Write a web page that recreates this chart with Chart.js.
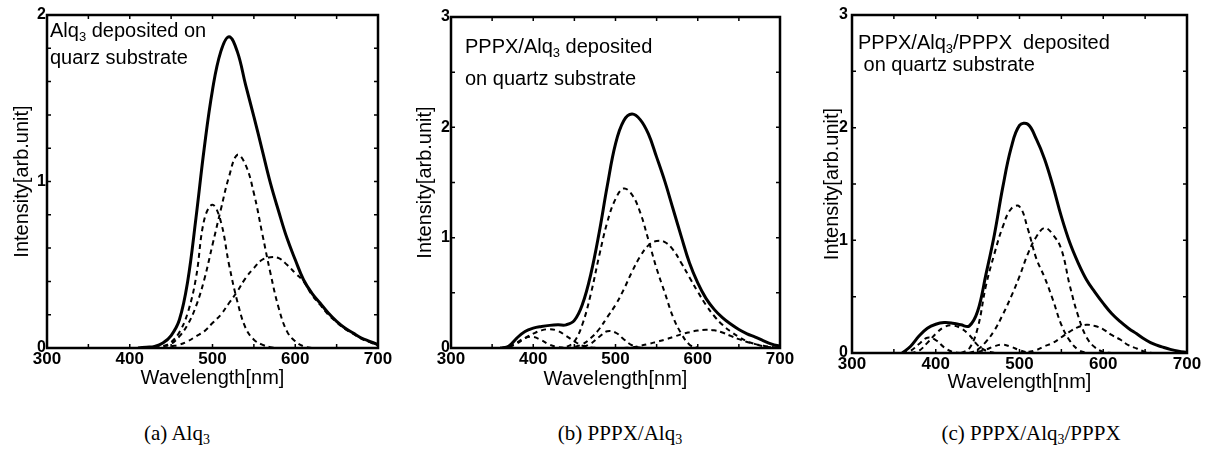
<!DOCTYPE html>
<html>
<head>
<meta charset="utf-8">
<script src="https://cdn.jsdelivr.net/npm/chart.js@4.4.1/dist/chart.umd.min.js"></script>
<style>
  html, body { margin: 0; padding: 0; background: #fff; }
  #page { position: relative; width: 1206px; height: 465px; overflow: hidden; background: #fff; }
  #page canvas { position: absolute; top: 0; }
  .note { position: absolute; font-family: "Liberation Sans", Arial, sans-serif; font-size: 20px; line-height: 20px; color: #000; white-space: pre; }
  .sub { position: relative; top: 4px; font-size: 13px; }
  .cap { position: absolute; font-family: "Liberation Serif", serif; font-size: 21px; line-height: 21px; color: #000; white-space: pre; transform: translateX(-50%); }
  .cap .sub { font-size: 14px; top: 4px; }
</style>
</head>
<body>
<div id="page">
  <canvas id="chartA" width="400" height="400" style="left:0px"></canvas>
  <canvas id="chartB" width="400" height="400" style="left:400px"></canvas>
  <canvas id="chartC" width="406" height="400" style="left:800px"></canvas>

  <div class="note" style="left:50px; top:20px">Alq<span class="sub">3</span> deposited on</div>
  <div class="note" style="left:50px; top:47px">quarz substrate</div>

  <div class="note" style="left:465px; top:36px">PPPX/Alq<span class="sub">3</span> deposited</div>
  <div class="note" style="left:465px; top:68px">on quartz substrate</div>

  <div class="note" style="left:858px; top:32px">PPPX/Alq<span class="sub">3</span>/PPPX  deposited</div>
  <div class="note" style="left:858px; top:54px"> on quartz substrate</div>

  <div class="cap" style="left:177px; top:423px">(a) Alq<span class="sub">3</span></div>
  <div class="cap" style="left:620px; top:423px">(b) PPPX/Alq<span class="sub">3</span></div>
  <div class="cap" style="left:1031px; top:423px">(c) PPPX/Alq<span class="sub">3</span>/PPPX</div>
</div>

<script>
const _ = null;

// wavelength grid shared by all panels (nm)
const wavelength = [
  300, 310, 320, 330, 340, 350, 360, 370, 380, 390,
  400, 410, 420, 430, 440, 450, 460, 470, 480, 490,
  500, 510, 520, 530, 540, 550, 560, 570, 580, 590,
  600, 610, 620, 630, 640, 650, 660, 670, 680, 690,
  700
];

// (a) Alq3
const aTotal = [
  _, _, _, _, _, _, _, _, _, _,
  _, 0, 0.005, 0.01, 0.03, 0.075, 0.17, 0.4, 0.78, 1.2,
  1.55, 1.78, 1.87, 1.78, 1.58, 1.39, 1.19, 0.99, 0.82, 0.66,
  0.53, 0.41, 0.33, 0.27, 0.21, 0.16, 0.12, 0.09, 0.06, 0.04,
  0.02
];
const aPeak1 = [
  _, _, _, _, _, _, _, _, _, _,
  _, _, _, 0, 0.01, 0.035, 0.095, 0.21, 0.42, 0.77,
  0.86, 0.76, 0.5, 0.28, 0.12, 0.05, 0.02, 0.005, 0, _,
  _, _, _, _, _, _, _, _, _, _,
  _
];
const aPeak2 = [
  _, _, _, _, _, _, _, _, _, _,
  _, _, _, 0, 0.01, 0.025, 0.07, 0.14, 0.25, 0.41,
  0.62, 0.83, 1.03, 1.16, 1.1, 0.93, 0.69, 0.45, 0.24, 0.1,
  0.04, 0.01, 0, _, _, _, _, _, _, _,
  _
];
const aPeak3 = [
  _, _, _, _, _, _, _, _, _, _,
  _, _, _, _, 0, 0.01, 0.02, 0.04, 0.07, 0.1,
  0.15, 0.2, 0.27, 0.34, 0.42, 0.48, 0.53, 0.545, 0.54, 0.5,
  0.45, 0.4, 0.32, 0.26, 0.2, 0.155, 0.115, 0.085, 0.055, 0.035,
  0.015
];

// (b) PPPX/Alq3
const bTotal = [
  _, _, _, _, _, _, 0, 0.015, 0.09, 0.15,
  0.18, 0.195, 0.205, 0.21, 0.21, 0.25, 0.4, 0.67, 1.04, 1.47,
  1.85, 2.06, 2.12, 2.07, 1.94, 1.73, 1.51, 1.26, 1.01, 0.77,
  0.59, 0.45, 0.35, 0.275, 0.217, 0.168, 0.129, 0.099, 0.065, 0.035,
  0.015
];
const bPeak1 = [
  _, _, _, _, _, _, _, _, _, _,
  _, _, _, 0, 0.01, 0.06, 0.22, 0.49, 0.83, 1.14,
  1.35, 1.445, 1.39, 1.23, 0.98, 0.72, 0.5, 0.28, 0.13, 0.03,
  0, _, _, _, _, _, _, _, _, _,
  _
];
const bPeak2 = [
  _, _, _, _, _, _, _, _, _, _,
  _, _, _, _, 0, 0.01, 0.035, 0.09, 0.17, 0.28,
  0.39, 0.53, 0.69, 0.83, 0.93, 0.97, 0.96, 0.89, 0.77, 0.64,
  0.51, 0.39, 0.29, 0.21, 0.15, 0.1, 0.06, 0.035, 0.015, 0.005,
  0
];
const bPeak3 = [
  _, _, _, _, _, _, 0, 0.012, 0.05, 0.09,
  0.1, 0.07, 0.03, 0.008, 0, _, _, _, _, _,
  _, _, _, _, _, _, _, _, _, _,
  _, _, _, _, _, _, _, _, _, _,
  _
];
const bPeak4 = [
  _, _, _, _, _, _, 0, 0.01, 0.04, 0.09,
  0.13, 0.16, 0.17, 0.155, 0.11, 0.06, 0.02, 0.005, 0, _,
  _, _, _, _, _, _, _, _, _, _,
  _, _, _, _, _, _, _, _, _, _,
  _
];
const bPeak5 = [
  _, _, _, _, _, _, _, _, _, _,
  _, _, _, _, _, 0, 0.01, 0.04, 0.1, 0.152,
  0.14, 0.08, 0.025, 0.004, 0, _, _, _, _, _,
  _, _, _, _, _, _, _, _, _, _,
  _
];
const bPeak6 = [
  _, _, _, _, _, _, _, _, _, _,
  _, _, _, _, _, _, _, _, _, _,
  _, 0, 0.005, 0.02, 0.036, 0.056, 0.076, 0.1, 0.125, 0.143,
  0.158, 0.165, 0.16, 0.14, 0.11, 0.08, 0.055, 0.035, 0.02, 0.01,
  0.005
];

// (c) PPPX/Alq3/PPPX
const cTotal = [
  _, _, _, _, _, _, 0, 0.06, 0.15, 0.22,
  0.255, 0.27, 0.265, 0.25, 0.24, 0.37, 0.7, 1.05, 1.47, 1.82,
  2.02, 2.03, 1.9, 1.72, 1.48, 1.21, 0.98, 0.8, 0.65, 0.54,
  0.44, 0.35, 0.28, 0.22, 0.17, 0.12, 0.08, 0.055, 0.032, 0.015,
  0.005
];
const cPeak1 = [
  _, _, _, _, _, _, _, _, _, _,
  _, _, _, 0, 0.04, 0.22, 0.6, 0.88, 1.12, 1.28,
  1.3, 1.1, 0.84, 0.67, 0.47, 0.25, 0.11, 0.03, 0, _,
  _, _, _, _, _, _, _, _, _, _,
  _
];
const cPeak2 = [
  _, _, _, _, _, _, _, _, _, _,
  _, _, _, _, 0, 0.03, 0.1, 0.2, 0.34, 0.5,
  0.68, 0.88, 1.03, 1.11, 1.05, 0.92, 0.6, 0.33, 0.14, 0.05,
  0.01, 0, _, _, _, _, _, _, _, _,
  _
];
const cPeak3 = [
  _, _, _, _, _, _, 0, 0.02, 0.08, 0.135,
  0.115, 0.05, 0.01, 0, _, _, _, _, _, _,
  _, _, _, _, _, _, _, _, _, _,
  _, _, _, _, _, _, _, _, _, _,
  _
];
const cPeak4 = [
  _, _, _, _, _, _, _, 0, 0.02, 0.09,
  0.17, 0.23, 0.245, 0.22, 0.16, 0.07, 0.02, 0, _, _,
  _, _, _, _, _, _, _, _, _, _,
  _, _, _, _, _, _, _, _, _, _,
  _
];
const cPeak5 = [
  _, _, _, _, _, _, _, _, _, _,
  _, _, _, _, 0, 0.01, 0.03, 0.06, 0.074, 0.055,
  0.025, 0.005, 0, _, _, _, _, _, _, _,
  _, _, _, _, _, _, _, _, _, _,
  _
];
const cPeak6 = [
  _, _, _, _, _, _, _, _, _, _,
  _, _, _, _, _, _, _, _, _, _,
  0, 0.01, 0.025, 0.06, 0.09, 0.14, 0.19, 0.23, 0.25, 0.24,
  0.21, 0.16, 0.12, 0.07, 0.04, 0.01, 0, _, _, _,
  _
];

const xTickLabels = [300, 400, 500, 600, 700];

Chart.defaults.font.family = '"Liberation Sans", Arial, sans-serif';
Chart.defaults.color = '#000';

// frame with inward ticks on all four sides
const framePlugin = {
  id: 'frame',
  afterDraw(chart) {
    const { ctx, chartArea: a, scales } = chart;
    const x = scales.x, y = scales.y;
    const len = 4;
    ctx.save();
    ctx.strokeStyle = '#000';
    ctx.lineWidth = 1.5;
    ctx.beginPath();
    x.ticks.forEach(t => {
      const px = x.getPixelForValue(t.value);
      ctx.moveTo(px, a.bottom); ctx.lineTo(px, a.bottom - len);
      ctx.moveTo(px, a.top); ctx.lineTo(px, a.top + len);
    });
    y.ticks.forEach(t => {
      const py = y.getPixelForValue(t.value);
      ctx.moveTo(a.left, py); ctx.lineTo(a.left + len, py);
      ctx.moveTo(a.right, py); ctx.lineTo(a.right - len, py);
    });
    ctx.stroke();
    ctx.lineWidth = 2.5;
    ctx.strokeRect(a.left, a.top, a.right - a.left, a.bottom - a.top);
    ctx.restore();
  }
};

function toPoints(values) {
  return wavelength.map((w, i) => ({ x: w, y: values[i] }));
}

function makePanel(p) {
  const datasets = p.series.map((s, i) => ({
    data: toPoints(s),
    borderColor: '#000',
    borderWidth: i === 0 ? 3 : 2,
    borderDash: i === 0 ? [] : [5, 4],
    pointRadius: 0,
    tension: 0.4,
    fill: false
  }));

  new Chart(document.getElementById(p.id), {
    type: 'line',
    data: { datasets },
    options: {
      responsive: false,
      animation: false,
      devicePixelRatio: 1,
      layout: { padding: { left: 0, top: p.area.top, right: p.width - p.area.right, bottom: 0 } },
      plugins: { legend: { display: false }, tooltip: { enabled: false } },
      scales: {
        x: {
          type: 'linear',
          min: 300,
          max: 700,
          grid: { display: false, drawTicks: false },
          border: { display: false },
          ticks: {
            stepSize: 50,
            autoSkip: false,
            maxRotation: 0,
            padding: 1,
            font: { size: 17, weight: 'bold' },
            callback: v => xTickLabels.includes(v) ? String(v) : ''
          },
          title: {
            display: true,
            text: 'Wavelength[nm]',
            font: { size: 20 },
            padding: { top: 0, bottom: 400 - p.xTitleY - 12 }
          },
          afterFit: s => { s.height = 400 - p.area.bottom; }
        },
        y: {
          type: 'linear',
          min: 0,
          max: p.yMax,
          grid: { display: false, drawTicks: false },
          border: { display: false },
          ticks: {
            stepSize: p.yStep,
            autoSkip: false,
            padding: p.yLabelPad,
            font: { size: 16, weight: 'bold' },
            callback: v => Math.abs(v - Math.round(v)) < 1e-6 ? String(Math.round(v)) : ''
          },
          title: {
            display: true,
            text: 'Intensity[arb.unit]',
            font: { size: 20 },
            padding: { top: p.yTitleX - 12, bottom: 0 }
          },
          afterFit: s => { s.width = p.area.left; }
        }
      }
    },
    plugins: [framePlugin]
  });
}

const panels = [
  { id: 'chartA', width: 400, area: { left: 47, right: 378, top: 15, bottom: 348 },
    yMax: 2, yStep: 0.2, yLabelPad: 1, yTitleX: 22, xTitleY: 378,
    series: [aTotal, aPeak1, aPeak2, aPeak3] },
  { id: 'chartB', width: 400, area: { left: 51, right: 380, top: 17, bottom: 348 },
    yMax: 3, yStep: 0.5, yLabelPad: 1, yTitleX: 25, xTitleY: 379,
    series: [bTotal, bPeak1, bPeak2, bPeak3, bPeak4, bPeak5, bPeak6] },
  { id: 'chartC', width: 406, area: { left: 52, right: 387, top: 15, bottom: 353 },
    yMax: 3, yStep: 0.5, yLabelPad: 4, yTitleX: 32, xTitleY: 382,
    series: [cTotal, cPeak1, cPeak2, cPeak3, cPeak4, cPeak5, cPeak6] }
];

panels.forEach(makePanel);
</script>
</body>
</html>
